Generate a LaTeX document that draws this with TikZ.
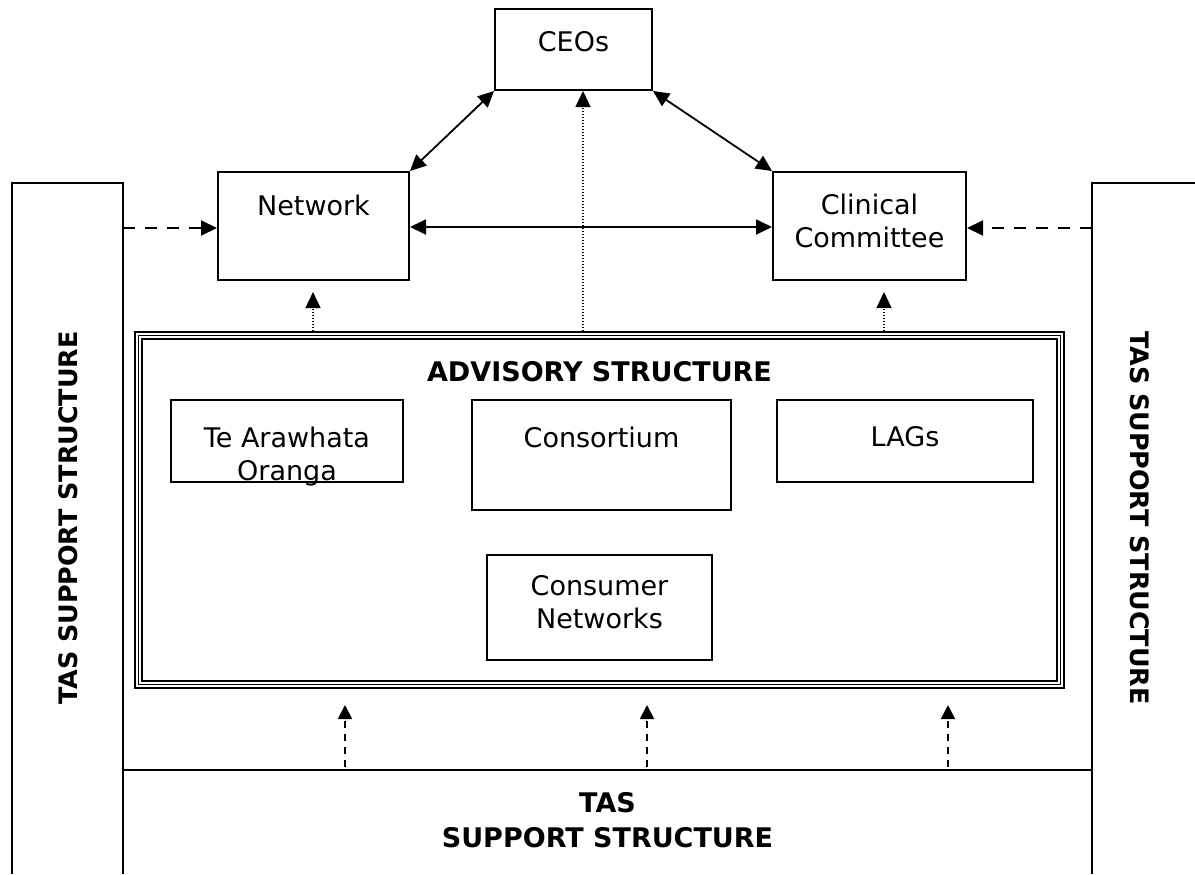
\documentclass[tikz,border=0pt]{standalone}
\usepackage{fontspec}
\setmainfont{DejaVu Sans}
\usetikzlibrary{arrows.meta,fit}
\tikzset{
  box/.style={draw, line width=1pt, inner sep=0pt},
  txt/.style={inner sep=0pt, font=\fontsize{13.5}{16.5}\selectfont, align=center},
  btxt/.style={inner sep=0pt, font=\fontsize{13.5}{17.5}\selectfont\bfseries, align=center},
  vtxt/.style={inner sep=0pt, font=\fontsize{12.7}{15}\selectfont\bfseries},
  head/.tip={Triangle[length=8pt,width=7.5pt]},
  tip/.style={-head},
  solidlink/.style={line width=0.9pt, head-head},
  dashlink/.style={tip, line width=1pt, dash pattern=on 6pt off 5pt},
  shortdash/.style={-{Triangle[length=7pt,width=7pt]}, line width=0.9pt, dash pattern=on 3.5pt off 3pt},
  dotlink/.style={tip, line width=0.6pt, dash pattern=on 0.6pt off 0.9pt},
  frame/.style={line width=1pt},
}
\begin{document}
\begin{tikzpicture}[x=0.5pt, y=-0.5pt]
\useasboundingbox (0,0) rectangle (1195,874);

% top level boxes
\node[box, fit={(495,9) (652,90)}] (ceo) {};
\node[txt] (ceoT) at (573.5,42) {CEOs};
\node[box, fit={(218,172) (409,280)}] (net) {};
\node[txt] (netT) at (313.5,205) {Network};
\node[box, fit={(773,172) (966,280)}] (cc) {};
\node[txt, anchor=north] (ccT) at (869.5,194) {Clinical\\Committee};

% side support columns (open at the page edge)
\draw[frame] (12,874) -- (12,183) -- (123,183) -- (123,874);
\draw[frame] (1195,183) -- (1092,183) -- (1092,874);
\draw[frame] (123,770) -- (1092,770);
\coordinate (lcol) at (123,228);
\coordinate (rcol) at (1092,228);
\node[vtxt, rotate=90] (ltas) at (68,518) {TAS SUPPORT STRUCTURE};
\node[vtxt, rotate=-90] (rtas) at (1140,518) {TAS SUPPORT STRUCTURE};
\node[btxt] (btas) at (607.5,820) {TAS\\SUPPORT STRUCTURE};

% advisory structure with triple border
\node[draw, line width=1.1pt, inner sep=0pt, fit={(135,332) (1064,688)}] (adv) {};
\draw[line width=0.6pt] (138.5,335.5) rectangle (1060.5,684.5);
\draw[line width=1.1pt] (142,339) rectangle (1057,681);
\node[btxt] (advT) at (599.5,372) {ADVISORY STRUCTURE};

\node[box, fit={(171,400) (403,482)}] (tao) {};
\node[txt, anchor=north] (taoT) at (287,427) {Te Arawhata\\Oranga};
\node[box, fit={(472,400) (731,510)}] (cons) {};
\node[txt] (consT) at (601.5,437) {Consortium};
\node[box, fit={(777,400) (1033,482)}] (lags) {};
\node[txt] (lagsT) at (905,437) {LAGs};
\node[box, fit={(487,555) (712,660)}] (cn) {};
\node[txt, anchor=north] (cnT) at (599.5,575) {Consumer\\Networks};

% connectors between the governance boxes
\draw[solidlink] (net.north east) -- (ceo.south west);
\draw[solidlink] (cc.north west) -- (ceo.south east);
\draw[solidlink] (net.east |- 0,227) -- (cc.west |- 0,227);

% advisory feeds
\draw[dotlink] (adv.north -| 583,0) -- (ceo.south -| 583,0);
\draw[dotlink] (adv.north -| 313,0) -- (313,292);
\draw[dotlink] (adv.north -| 884,0) -- (884,292);

% support feeds
\draw[dashlink] (lcol) -- (net.west |- lcol);
\draw[dashlink] (rcol) -- (cc.east |- rcol);
\foreach \x/\n in {345/a, 647/b, 948/c} {
  \coordinate (s\n) at (\x,767);
  \draw[shortdash] (s\n) -- (\x,705);
}
\end{tikzpicture}
\end{document}
